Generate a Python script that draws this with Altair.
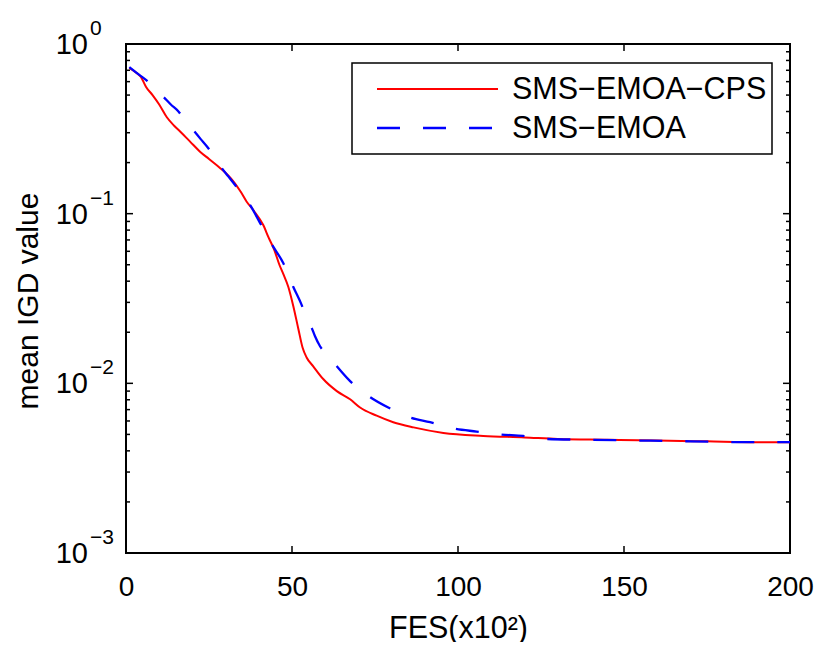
import altair as alt
import pandas as pd

# ---- data ----
cps_fes = [1, 3, 4.5, 6, 8, 10, 12.3, 14.5, 16.3, 19.3, 22.3, 25, 28.3, 30.5, 32.8, 34.5,
           36.3, 38.5, 41.3, 43, 44.6, 46.2, 47.4, 48.9, 50.4, 51.9, 53.2, 54.4, 56.4,
           59.4, 63.5, 67.5, 70.5, 75.5, 80.5, 86.6, 95.6, 107.6, 120, 130, 145, 160,
           175, 190, 200]
cps_igd = [0.72, 0.68, 0.64, 0.56, 0.50, 0.44, 0.37, 0.33, 0.305, 0.266, 0.232, 0.21,
           0.186, 0.17, 0.151, 0.135, 0.118, 0.104, 0.086, 0.072, 0.0616, 0.050, 0.044,
           0.037, 0.0285, 0.021, 0.0162, 0.0142, 0.0126, 0.0106, 0.0090, 0.00805, 0.0072,
           0.00645, 0.0059, 0.0055, 0.0051, 0.0049, 0.0048, 0.0047, 0.00465, 0.0046,
           0.00455, 0.0045, 0.0045]

emoa_fes = [1, 3, 6.2, 8.5, 11.2, 13.5, 15.8, 18, 20.3, 22.5, 24.8, 26.8, 28.8, 30.8,
            32.8, 35, 37.3, 40.4, 43.9, 47.4, 50.4, 52.9, 54.5, 55.9, 56.9, 58.4, 61,
            63.5, 67.5, 73.5, 79, 85.5, 91.6, 99.1, 105.6, 112.7, 119.6, 126.7, 140,
            155, 170, 185, 200]
emoa_igd = [0.73, 0.68, 0.61, 0.55, 0.49, 0.44, 0.40, 0.35, 0.31, 0.275, 0.243, 0.213,
            0.186, 0.166, 0.148, 0.13, 0.113, 0.088, 0.066, 0.051, 0.037, 0.029, 0.024,
            0.0213, 0.019, 0.0166, 0.0145, 0.0126, 0.0103, 0.0083, 0.0072, 0.0063,
            0.0059, 0.0054, 0.0052, 0.0050, 0.0049, 0.0047, 0.00465, 0.0046, 0.00455,
            0.0045, 0.0045]

series_names = ["SMS\u2212EMOA\u2212CPS", "SMS\u2212EMOA"]
series_colors = ["#ff0000", "#0000ff"]

x_ticks = [0, 50, 100, 150, 200]
y_major = [1, 0.1, 0.01, 0.001]
y_exponents = ["0", "\u22121", "\u22122", "\u22123"]
y_minor = [0.002, 0.003, 0.004, 0.005, 0.006, 0.007, 0.008, 0.009,
           0.02, 0.03, 0.04, 0.05, 0.06, 0.07, 0.08, 0.09,
           0.2, 0.3, 0.4, 0.5, 0.6, 0.7, 0.8, 0.9]

FONT = "Liberation Sans"
W, H = 664, 509

df_cps = pd.DataFrame({"fes": cps_fes, "v": cps_igd})
df_emoa = pd.DataFrame({"fes": emoa_fes, "v": emoa_igd})
df_xt = pd.DataFrame({"fes": x_ticks})
df_ymaj = pd.DataFrame({"v": y_major, "exp": y_exponents, "base": ["10"] * 4})
df_ymin = pd.DataFrame({"v": y_minor})
one = pd.DataFrame({"a": [0]})

xscale = alt.Scale(domain=[0, 200], nice=False, zero=False)
yscale = alt.Scale(type="log", domain=[0.001, 1], nice=False)

x_axis = alt.Axis(values=x_ticks, title="FES(x10\u00b2)", ticks=False, tickSize=0,
                  domain=False, grid=False, labelFontSize=28, labelPadding=20,
                  labelFlush=False, labelOverlap=False,
                  titleFontSize=30.5, titleFontWeight="normal", titlePadding=12,
                  labelFont=FONT, titleFont=FONT, labelColor="black",
                  titleColor="black")
y_axis = alt.Axis(labels=False, ticks=False, tickSize=0, domain=False, grid=False,
                  title="mean IGD value", titleFontSize=30,
                  titleFontWeight="normal", titleFont=FONT, titleColor="black",
                  titleAngle=270, titleX=-98, titleY=H / 2 + 2,
                  titleAlign="center", titleBaseline="middle")

X = alt.X("fes:Q", scale=xscale, axis=x_axis)
Y = alt.Y("v:Q", scale=yscale, axis=y_axis)

line_cps = alt.Chart(df_cps).mark_line(color=series_colors[0], strokeWidth=2,
                                       interpolate="monotone").encode(x=X, y=Y)
line_emoa = alt.Chart(df_emoa).mark_line(color=series_colors[1], strokeWidth=2.3,
                                         strokeDash=[23, 23],
                                         interpolate="monotone").encode(x=X, y=Y)

# inward ticks (MATLAB box style)
xt_bottom = alt.Chart(df_xt).mark_rule(color="black", strokeWidth=1.5).encode(
    x=X, y=alt.value(H), y2=alt.value(H - 7))
xt_top = alt.Chart(df_xt).mark_rule(color="black", strokeWidth=1.5).encode(
    x=X, y=alt.value(0), y2=alt.value(7))
yt_left = alt.Chart(df_ymaj).mark_rule(color="black", strokeWidth=1.5).encode(
    y=Y, x=alt.value(0), x2=alt.value(7))
yt_right = alt.Chart(df_ymaj).mark_rule(color="black", strokeWidth=1.5).encode(
    y=Y, x=alt.value(W), x2=alt.value(W - 7))
ym_left = alt.Chart(df_ymin).mark_rule(color="black", strokeWidth=1.5).encode(
    y=Y, x=alt.value(0), x2=alt.value(4))
ym_right = alt.Chart(df_ymin).mark_rule(color="black", strokeWidth=1.5).encode(
    y=Y, x=alt.value(W), x2=alt.value(W - 4))

# y tick labels 10^k
ylab_base = alt.Chart(df_ymaj).mark_text(align="right", baseline="middle", fontSize=29,
                                         font=FONT, color="black", dy=1).encode(
    y=Y, x=alt.value(-38), text="base:N")
ylab_exp = alt.Chart(df_ymaj).mark_text(align="left", baseline="alphabetic", fontSize=21,
                                        font=FONT, color="black", dy=-9).encode(
    y=Y, x=alt.value(-36), text="exp:N")

# legend
leg_box = alt.Chart(one).mark_rect(fill="white", stroke="black", strokeWidth=1.5).encode(
    x=alt.value(226), x2=alt.value(646), y=alt.value(19), y2=alt.value(110))
leg_l1 = alt.Chart(one).mark_rule(color=series_colors[0], strokeWidth=2).encode(
    x=alt.value(251), x2=alt.value(372), y=alt.value(45))
leg_l2 = alt.Chart(one).mark_rule(color=series_colors[1], strokeWidth=2.3,
                                  strokeDash=[23, 23]).encode(
    x=alt.value(251), x2=alt.value(372), y=alt.value(84))
leg_t1 = alt.Chart(one).mark_text(align="left", baseline="middle", fontSize=30.5, font=FONT,
                                  color="black").encode(
    x=alt.value(386), y=alt.value(46), text=alt.value(series_names[0]))
leg_t2 = alt.Chart(one).mark_text(align="left", baseline="middle", fontSize=30.5, font=FONT,
                                  color="black").encode(
    x=alt.value(386), y=alt.value(85), text=alt.value(series_names[1]))

chart = alt.layer(
    line_cps, line_emoa, xt_bottom, xt_top, yt_left, yt_right, ym_left, ym_right,
    ylab_base, ylab_exp, leg_box, leg_l1, leg_l2, leg_t1, leg_t2
).properties(
    width=W, height=H,
    autosize=alt.AutoSizeParams(type="none"),
    padding={"left": 118, "top": 36, "right": 32, "bottom": 89},
    background="white",
).configure_view(stroke="black", strokeWidth=2)

chart.save("out.html", embed_options={"renderer": "svg", "actions": False})
